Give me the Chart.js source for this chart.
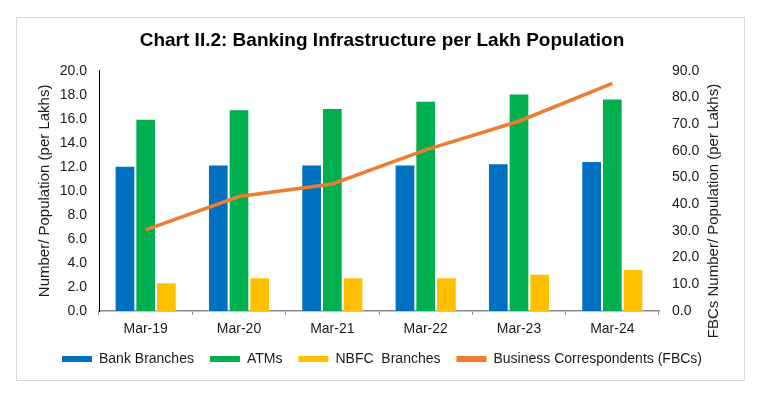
<!DOCTYPE html>
<html>
<head>
<meta charset="utf-8">
<script src="https://cdn.jsdelivr.net/npm/chart.js@4"></script>
<style>
  html, body { margin: 0; padding: 0; background: #fff; }
  #wrap { width: 764px; height: 398px; }
</style>
</head>
<body>
<div id="wrap"><canvas id="c" width="764" height="398"></canvas></div>
<script>
const categories = ["Mar-19", "Mar-20", "Mar-21", "Mar-22", "Mar-23", "Mar-24"];
const bankBranches = [12.1, 12.2, 12.2, 12.2, 12.3, 12.5];
const atms = [16.0, 16.8, 16.9, 17.5, 18.1, 17.7];
const nbfcBranches = [2.4, 2.8, 2.8, 2.8, 3.1, 3.5];
const businessCorrespondents = [30.4, 42.9, 47.6, 60.4, 71.1, 85.3];
const leftTicks = { min: 0, max: 20, step: 2 };
const rightTicks = { min: 0, max: 90, step: 10 };

const FONT = "'Liberation Sans', Arial, sans-serif";
const TXT = '#1a1a1a';

const frame = {
  id: 'frame',
  beforeDraw(chart) {
    const ctx = chart.ctx;
    ctx.save();
    ctx.fillStyle = '#fff';
    ctx.fillRect(0, 0, chart.width, chart.height);
    ctx.strokeStyle = '#d9d9d9';
    ctx.lineWidth = 1;
    ctx.strokeRect(16.5, 17.5, 728, 363);
    ctx.restore();
  },
  afterDraw(chart) {
    const ctx = chart.ctx;
    ctx.save();
    ctx.translate(714, 211);
    ctx.rotate(-Math.PI / 2);
    ctx.font = '15px ' + FONT;
    ctx.fillStyle = TXT;
    ctx.textAlign = 'center';
    ctx.textBaseline = 'middle';
    ctx.fillText('FBCs Number/ Population (per Lakhs)', 0, 0);
    ctx.restore();
  }
};

new Chart(document.getElementById('c'), {
  type: 'bar',
  data: {
    labels: categories,
    datasets: [
      { label: 'Bank Branches', data: bankBranches, backgroundColor: '#0070C0', borderColor: 'rgba(255,255,255,0.45)', borderWidth: 1, yAxisID: 'y', order: 1 },
      { label: 'ATMs', data: atms, backgroundColor: '#00B050', borderColor: 'rgba(255,255,255,0.45)', borderWidth: 1, yAxisID: 'y', order: 1 },
      { label: 'NBFC  Branches', data: nbfcBranches, backgroundColor: '#FFC000', borderColor: 'rgba(255,255,255,0.45)', borderWidth: 1, yAxisID: 'y', order: 1 },
      { label: 'Business Correspondents (FBCs)', type: 'line', data: businessCorrespondents, borderColor: '#ED7D31', backgroundColor: '#ED7D31', borderWidth: 3.5, pointRadius: 0, tension: 0, yAxisID: 'y1', order: 0 }
    ]
  },
  options: {
    responsive: false,
    devicePixelRatio: 1,
    animation: false,
    layout: { padding: { top: 17, left: 20, right: 20, bottom: 22 } },
    datasets: { bar: { categoryPercentage: 0.665, barPercentage: 1.0 } },
    plugins: {
      title: {
        display: true,
        text: 'Chart II.2: Banking Infrastructure per Lakh Population',
        color: '#000',
        font: { family: FONT, size: 19, weight: 'bold' },
        padding: { top: 12, bottom: 19 }
      },
      legend: {
        position: 'bottom',
        labels: {
          color: TXT,
          font: { family: FONT, size: 14 },
          boxWidth: 30,
          boxHeight: 6,
          padding: 16,
          sort: (a, b) => a.datasetIndex - b.datasetIndex,
          generateLabels: (chart) => Chart.defaults.plugins.legend.labels.generateLabels(chart).map(l => Object.assign(l, { lineWidth: 0 }))
        }
      },
      tooltip: { enabled: false }
    },
    scales: {
      x: {
        grid: { display: true, drawOnChartArea: false, drawTicks: true, tickLength: 4, color: '#898989', offset: true },
        border: { display: true, color: '#898989', width: 1.5 },
        ticks: { color: TXT, font: { family: FONT, size: 14 }, padding: 6, maxRotation: 0 },
        afterFit: s => { s.height = 25; }
      },
      y: {
        position: 'left',
        min: leftTicks.min, max: leftTicks.max,
        grid: { display: false, drawTicks: false },
        border: { display: true, color: '#000', width: 1 },
        ticks: { stepSize: leftTicks.step, color: TXT, font: { family: FONT, size: 14 }, padding: 12, callback: v => Number(v).toFixed(1) },
        title: { display: true, text: 'Number/ Population (per Lakhs)', color: TXT, font: { family: FONT, size: 15 }, padding: { top: 16, bottom: 0 } },
        afterFit: s => { s.width = 79; }
      },
      y1: {
        position: 'right',
        min: rightTicks.min, max: rightTicks.max,
        grid: { display: false, drawTicks: false },
        border: { display: false },
        ticks: { stepSize: rightTicks.step, color: TXT, font: { family: FONT, size: 14 }, padding: 13, callback: v => Number(v).toFixed(1) },
        afterFit: s => { s.width = 85; }
      }
    }
  },
  plugins: [frame]
});
</script>
</body>
</html>
